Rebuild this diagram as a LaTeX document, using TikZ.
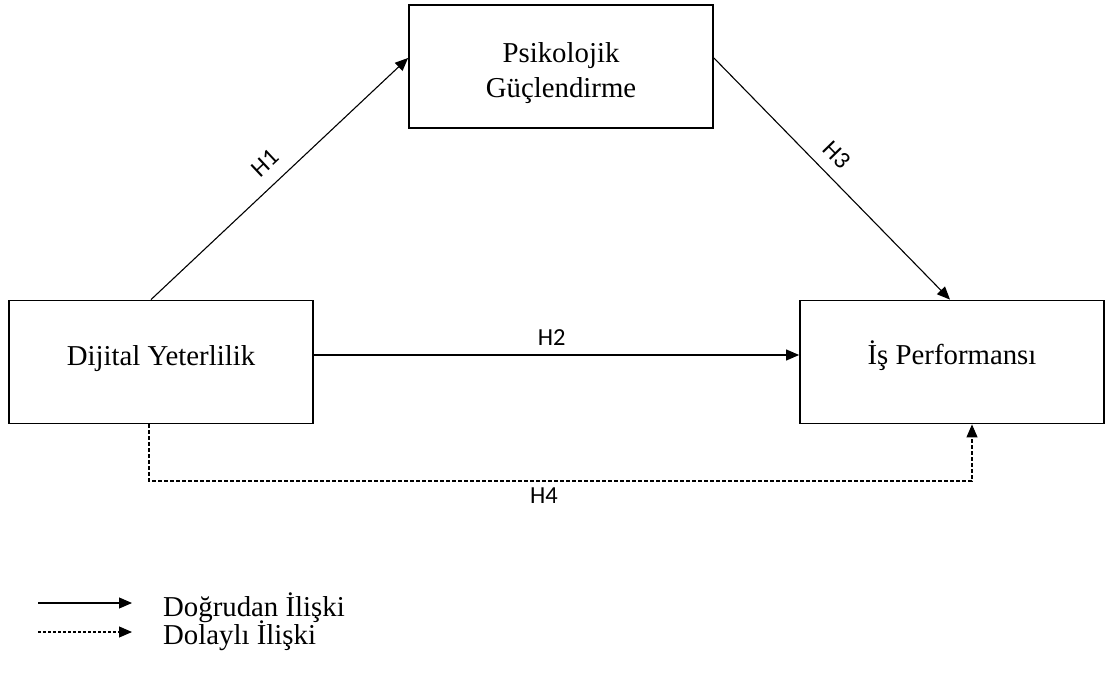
\documentclass[tikz,border=0pt]{standalone}
\usepackage{fontspec}
\setmainfont{Liberation Serif}
\newfontfamily\hfont{Carlito}
\usetikzlibrary{arrows.meta}
\begin{document}
\begin{tikzpicture}[x=1pt,y=-1pt,
  box/.style={draw, line width=1.8pt, minimum width=304pt, minimum height=123pt,
    inner sep=0pt, font=\fontsize{28.8}{35}\selectfont, align=center},
  boxtext/.style={inner sep=0pt, font=\fontsize{28.8}{35}\selectfont, align=center, anchor=north},
  conn/.style={line width=1.1pt, -{Triangle[length=13pt,width=11pt]}},
  dashconn/.style={conn, dash pattern=on 4pt off 2pt},
  legdash/.style={conn, dash pattern=on 3pt off 2pt},
  hlab/.style={font=\hfont\fontsize{24.5}{28}\selectfont, inner sep=1pt},
  legtext/.style={font=\fontsize{28.8}{35}\selectfont, anchor=base west, inner sep=0pt}]
\useasboundingbox (0,0) rectangle (1108,684);

\node[box, text height=20pt, text depth=12pt] (dy) at (161,362) {Dijital Yeterlilik};
\node[box] (pg) at (561,66.5) {};
\node[boxtext] (pgt) at (561,42.5) {Psikolojik\\Güçlendirme};
\node[box, text height=20pt, text depth=14pt] (ip) at (952,362) {İş Performansı};

\draw[conn] ([xshift=-10pt]dy.north) -- node[hlab, sloped, above=12pt, pos=0.5] (h1) {H1} ([yshift=8.5pt]pg.west);
\draw[conn] ([yshift=8.5pt]pg.east) -- node[hlab, sloped, above=11pt, pos=0.46] (h3) {H3} ([xshift=-2pt]ip.north);
\draw[conn] ([yshift=7pt]dy.east) -- node[hlab, above=8pt, pos=0.49] (h2) {H2} ([yshift=7pt]ip.west);

\coordinate (h4a) at (149,481);
\coordinate (h4b) at (972,481);
\draw[dashconn] (dy.south -| h4a) -- (h4a) -- node[hlab, below=5pt, pos=0.48] (h4) {H4} (h4b) -- (ip.south -| h4b);

\coordinate (l1a) at (38,603);
\coordinate (l1b) at (132,603);
\draw[conn] (l1a) -- (l1b);
\node[legtext] (l1t) at (163,616) {Doğrudan İlişki};

\coordinate (l2a) at (38,632);
\coordinate (l2b) at (132,632);
\draw[legdash] (l2a) -- (l2b);
\node[legtext] (l2t) at (163,644) {Dolaylı İlişki};
\end{tikzpicture}
\end{document}
